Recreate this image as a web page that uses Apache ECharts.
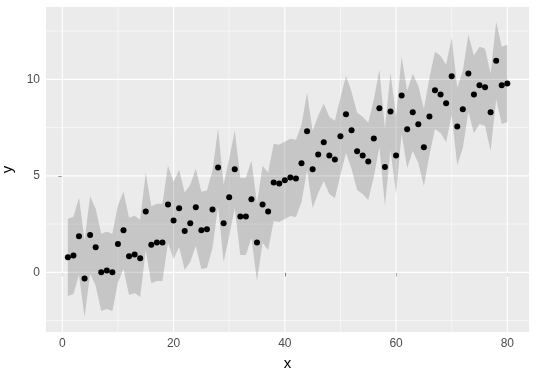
<!DOCTYPE html>
<html><head><meta charset="utf-8">
<script src="https://cdn.jsdelivr.net/npm/echarts@6/dist/echarts.min.js"></script>
<style>html,body{margin:0;padding:0;background:#fff}#c{width:538px;height:377px}</style>
</head><body><div id="c"></div>
<script>
const xValues = [1,2,3,4,5,6,7,8,9,10,11,12,13,14,15,16,17,18,19,20,21,22,23,24,25,26,27,28,29,30,31,32,33,34,35,36,37,38,39,40,41,42,43,44,45,46,47,48,49,50,51,52,53,54,55,56,57,58,59,60,61,62,63,64,65,66,67,68,69,70,71,72,73,74,75,76,77,78,79,80];
const yValues = [0.78,0.88,1.87,-0.32,1.93,1.30,0.00,0.10,0.00,1.47,2.18,0.83,0.93,0.73,3.16,1.43,1.55,1.55,3.52,2.69,3.32,2.14,2.54,3.37,2.18,2.24,3.26,5.44,2.54,3.89,5.34,2.90,2.90,3.79,1.55,3.52,3.16,4.66,4.61,4.77,4.92,4.87,5.65,7.31,5.34,6.11,6.74,6.06,5.85,7.05,8.19,7.36,6.27,6.06,5.75,6.94,8.50,5.46,8.34,6.06,9.17,7.41,8.29,7.67,6.48,8.08,9.43,9.22,8.76,10.16,7.56,8.45,10.31,9.22,9.69,9.59,8.29,10.97,9.69,9.79];
const lowerValues = [-1.22,-1.12,-0.13,-2.32,-0.07,-0.70,-2.00,-1.90,-2.00,-0.53,0.18,-1.17,-1.07,-1.27,1.16,-0.57,-0.45,-0.45,1.52,0.69,1.32,0.14,0.54,1.37,0.18,0.24,1.26,3.44,0.54,1.89,3.34,0.90,0.90,1.79,-0.45,1.52,1.16,2.66,2.61,2.77,2.92,2.87,3.65,5.31,3.34,4.11,4.74,4.06,3.85,5.05,6.19,5.36,4.27,4.06,3.75,4.94,6.50,3.46,6.34,4.06,7.17,5.41,6.29,5.67,4.48,6.08,7.43,7.22,6.76,8.16,5.56,6.45,8.31,7.22,7.69,7.59,6.29,8.97,7.69,7.79];
const upperValues = [2.78,2.88,3.87,1.68,3.93,3.30,2.00,2.10,2.00,3.47,4.18,2.83,2.93,2.73,5.16,3.43,3.55,3.55,5.52,4.69,5.32,4.14,4.54,5.37,4.18,4.24,5.26,7.44,4.54,5.89,7.34,4.90,4.90,5.79,3.55,5.52,5.16,6.66,6.61,6.77,6.92,6.87,7.65,9.31,7.34,8.11,8.74,8.06,7.85,9.05,10.19,9.36,8.27,8.06,7.75,8.94,10.50,7.46,10.34,8.06,11.17,9.41,10.29,9.67,8.48,10.08,11.43,11.22,10.76,12.16,9.56,10.45,12.31,11.22,11.69,11.59,10.29,12.97,11.69,11.79];
const xTicks = [0,20,40,60,80];
const xMinorTicks = [10,30,50,70];
const yTicks = [0,5,10];
const yMinorTicks = [-2.5,2.5,7.5,12.5];

const font = "'Liberation Sans', Arial, sans-serif";
const chart = echarts.init(document.getElementById('c'), null, {renderer:'canvas'});
const mk = (arr) => arr.map((v,i)=>[xValues[i], v]);

// grid lines (major + minor) drawn through the axes' scales
const vLines = xTicks.map(v=>[v, 0, 1]).concat(xMinorTicks.map(v=>[v, 0, 0]));
const hLines = yTicks.map(v=>[0, v, 1]).concat(yMinorTicks.map(v=>[0, v, 0]));

function vLineRender(params, api){
  const cs = params.coordSys;
  const x = api.coord([api.value(0), 0])[0];
  const major = api.value(2) === 1;
  return {type:'line', shape:{x1:x, y1:cs.y, x2:x, y2:cs.y+cs.height},
    style:{stroke:'#FFFFFF', lineWidth: major ? 1.1 : 0.55}};
}
function hLineRender(params, api){
  const cs = params.coordSys;
  const y = api.coord([0, api.value(1)])[1];
  const major = api.value(2) === 1;
  return {type:'line', shape:{x1:cs.x, y1:y, x2:cs.x+cs.width, y2:y},
    style:{stroke:'#FFFFFF', lineWidth: major ? 1.1 : 0.55}};
}
function ribbonRender(params, api){
  if (params.dataIndex !== 0) return null;
  const pts = [];
  for (let i = 0; i < xValues.length; i++) pts.push(api.coord([xValues[i], upperValues[i]]));
  for (let i = xValues.length - 1; i >= 0; i--) pts.push(api.coord([xValues[i], lowerValues[i]]));
  return {type:'polygon', shape:{points:pts}, style:{fill:'rgba(51,51,51,0.2)', stroke:null}};
}

chart.setOption({
  animation:false,
  backgroundColor:'#FFFFFF',
  grid:{left:46, top:7, width:483, height:325, show:true, backgroundColor:'#EBEBEB', borderWidth:0, containLabel:false, outerBoundsMode:'none'},
  xAxis:{
    type:'value', min:-2.93, max:83.9,
    axisLine:{show:false},
    axisTick:{show:true, length:4, customValues:xTicks, lineStyle:{color:'#333333', width:1}},
    axisLabel:{customValues:xTicks, color:'#4D4D4D', fontSize:12, margin:6, fontFamily:font},
    splitLine:{show:false},
    name:'x', nameLocation:'middle', nameGap:24, nameTextStyle:{color:'#000000', fontSize:15, fontFamily:font}
  },
  yAxis:{
    type:'value', min:-3.09, max:13.75,
    axisLine:{show:false},
    axisTick:{show:true, length:4, customValues:yTicks, lineStyle:{color:'#333333', width:1}},
    axisLabel:{customValues:yTicks, color:'#4D4D4D', fontSize:12, margin:6, fontFamily:font},
    splitLine:{show:false},
    name:'y', nameLocation:'middle', nameGap:26, nameTextStyle:{color:'#000000', fontSize:15, fontFamily:font}
  },
  series:[
    {type:'custom', renderItem:vLineRender, data:vLines, silent:true, z:1},
    {type:'custom', renderItem:hLineRender, data:hLines, silent:true, z:1},
    {type:'custom', renderItem:ribbonRender, data:[[xValues[0], yValues[0]]], silent:true, z:2, clip:true},
    {type:'scatter', data:mk(yValues), symbol:'circle', symbolSize:6, itemStyle:{color:'#000000', opacity:1}, z:5}
  ]
});
</script></body></html>
